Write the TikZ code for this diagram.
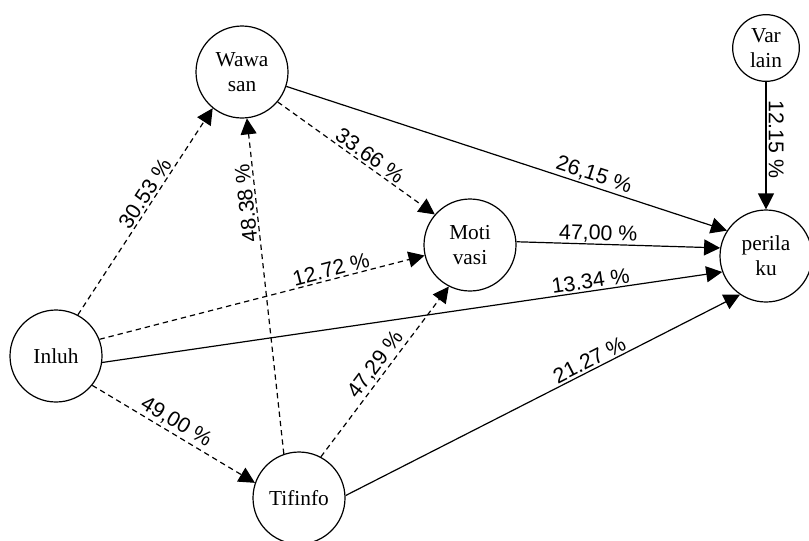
\documentclass[tikz,border=0pt]{standalone}
\usepackage{fontspec}
\setmainfont{Liberation Serif}
\setsansfont{Liberation Sans}
\usetikzlibrary{arrows.meta}

\tikzset{
  konstruk/.style={draw, circle, line width=0.9pt, inner sep=0pt, minimum size=69pt, align=center, font=\fontsize{16}{19}\selectfont},
  lnk/.style={line width=0.9pt, -{Triangle[length=12pt,width=12pt]}},
  lnkd/.style={lnk, dash pattern=on 4pt off 3pt},
  pct/.style={sloped, above, inner sep=1.5pt, font=\sffamily\fontsize{16}{19}\selectfont}
}

\begin{document}
\begin{tikzpicture}[x=0.75pt,y=0.75pt]
\useasboundingbox (0,0) rectangle (809,-540);

%Shape: Circle
\node[konstruk] (wawasan) at (242,-72) {Wawa\\san};
%Shape: Circle
\node[konstruk, minimum size=50pt] (varlain) at (766,-48) {Var\\lain};
%Shape: Circle
\node[konstruk] (motivasi) at (470,-245) {Moti\\vasi};
%Shape: Circle
\node[konstruk] (perilaku) at (766,-256) {perila\\ku};
%Shape: Circle
\node[konstruk] (inluh) at (56,-356) {Inluh};
%Shape: Circle
\node[konstruk] (tifinfo) at (299,-498) {Tifinfo};

%Straight Lines
\draw[lnkd] (inluh.62) -- node[pct, pos=0.56] {30.53 \%} (wawasan.231);
%Straight Lines
\draw[lnkd] (tifinfo.109) -- node[pct, pos=0.75, allow upside down] {48.38 \%} (wawasan.276);
%Straight Lines
\draw[lnkd] (wawasan.320) -- node[pct, pos=0.55] {33.66 \%} (motivasi.139);
%Straight Lines
\draw[lnk] (wawasan.342) -- node[pct, pos=0.69] {26,15 \%} (perilaku.147);
%Straight Lines
\draw[lnk] (motivasi.4) -- node[pct, pos=0.40, inner sep=0.5pt] {47,00 \%} (perilaku.170);
%Straight Lines
\draw[lnk] (inluh.352) -- node[pct, pos=0.79] {13.34 \%} (perilaku.200);
%Straight Lines
\draw[lnkd] (inluh.21) -- node[pct, pos=0.72] {12.72 \%} (motivasi.193);
%Straight Lines
\draw[lnkd] (inluh.321) -- node[pct, pos=0.48] {49,00 \%} (tifinfo.161);
%Straight Lines
\draw[lnkd] (tifinfo.62) -- node[pct, pos=0.50] {47,29 \%} (motivasi.243);
%Straight Lines
\draw[lnk] (tifinfo.3) -- node[pct, pos=0.63] {21.27 \%} (perilaku.236);
%Straight Lines
\draw[lnk] (varlain.south) -- node[pct, pos=0.45] {12.15 \%} (perilaku.north);

\end{tikzpicture}
\end{document}
